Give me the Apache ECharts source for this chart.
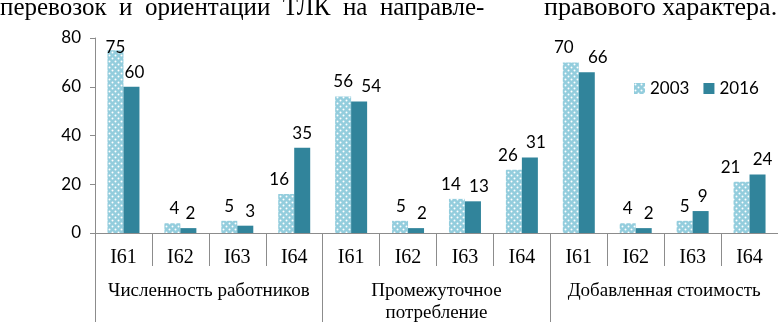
<!DOCTYPE html>
<html><head><meta charset="utf-8">
<script src="https://cdn.jsdelivr.net/npm/echarts@6/dist/echarts.min.js"></script>
<style>html,body{margin:0;padding:0;background:#fff}#c{width:778px;height:322px}</style>
</head><body><div id="c"></div>
<script>
const categories = ['I61','I62','I63','I64','I61','I62','I63','I64','I61','I62','I63','I64'];
const groups = ['Численность работников','Промежуточное\nпотребление','Добавленная стоимость'];
const series2003 = [75,4,5,16, 56,5,14,26, 70,4,5,21];
const series2016 = [60,2,3,35, 54,2,13,31, 66,2,9,24];
const seriesNames = ['2003','2016'];
const yTicks = [0,20,40,60,80];

// label nudges (pixels) to mimic the original label placement
const nudge2003 = [[0,12],[2,0],[0,0],[-7,0],[0,0],[1,0],[-6,0],[-6,0],[-7,0],[0,0],[0,0],[-11,0]];
const nudge2016 = [[3,0],[2,0],[5,0],[0,0],[12,0],[6,0],[6,0],[6,0],[11,0],[5,0],[2,0],[5,0]];

function dotPattern(){
  const c = document.createElement('canvas');
  c.width = 6; c.height = 6;
  const g = c.getContext('2d');
  g.fillStyle = '#93CDDD'; g.fillRect(0,0,6,6);
  g.fillStyle = '#ffffff';
  g.beginPath(); g.arc(1.5,1.5,1,0,Math.PI*2); g.fill();
  g.beginPath(); g.arc(4.5,4.5,1,0,Math.PI*2); g.fill();
  return {image: c, repeat: 'repeat'};
}
const pat = dotPattern();
const axisGray = '#8c8c8c';
const numFont = 'Lato';
const serif = '"Liberation Serif"';

const d2003 = series2003.map((v,i)=> ({value:v, label:{offset:nudge2003[i]}}));
const d2016 = series2016.map((v,i)=> ({value:v, label:{offset:nudge2016[i]}}));

const chart = echarts.init(document.getElementById('c'), null, {renderer:'canvas'});
chart.setOption({
  animation:false,
  grid:{left:95, right:0, top:38, bottom:89, containLabel:false, outerBoundsMode:'none'},
  legend:{
    data:seriesNames, left:629, top:75, itemWidth:11, itemHeight:11, itemGap:14,
    textStyle:{fontFamily:numFont, fontSize:17, color:'#000'}, icon:'rect'
  },
  graphic:[
    {type:'text', left:0, top:-4, style:{text:'перевозок  и  ориентации  ТЛК  на  направле-', font:'25px "Liberation Serif"', fill:'#000'}},
    {type:'text', left:544, top:-5, style:{text:'правового характера.', font:'26px "Liberation Serif"', fill:'#000'}}
  ],
  xAxis:[
    {type:'category', data:categories, position:'bottom',
     axisLine:{lineStyle:{color:axisGray}},
     axisTick:{show:true, interval:0, length:33, lineStyle:{color:axisGray}},
     axisLabel:{interval:0, margin:14, fontFamily:serif, fontSize:20, lineHeight:22, color:'#000'}},
    {type:'category', data:groups, position:'bottom',
     axisLine:{show:false},
     axisTick:{show:true, interval:0, length:89, lineStyle:{color:axisGray}},
     axisLabel:{interval:0, margin:47, fontFamily:serif, fontSize:19, lineHeight:22, color:'#000'}}
  ],
  yAxis:{type:'value', min:0, max:80, interval:20,
    axisLine:{show:true, lineStyle:{color:axisGray}},
    axisTick:{show:true, length:5, lineStyle:{color:axisGray}},
    splitLine:{show:false},
    axisLabel:{margin:14, fontFamily:numFont, fontSize:17, color:'#000',
      formatter:v=> yTicks.includes(v) ? String(v) : ''}},
  series:[
    {name:seriesNames[0], type:'bar', data:d2003, barWidth:16, barGap:'0%',
     itemStyle:{color:pat},
     label:{show:true, position:'top', distance:6, fontFamily:numFont, fontSize:17, color:'#000'}},
    {name:seriesNames[1], type:'bar', data:d2016, barWidth:16, barGap:'0%',
     itemStyle:{color:'#31849B'},
     label:{show:true, position:'top', distance:6, fontFamily:numFont, fontSize:17, color:'#000'}}
  ]
});
</script></body></html>
